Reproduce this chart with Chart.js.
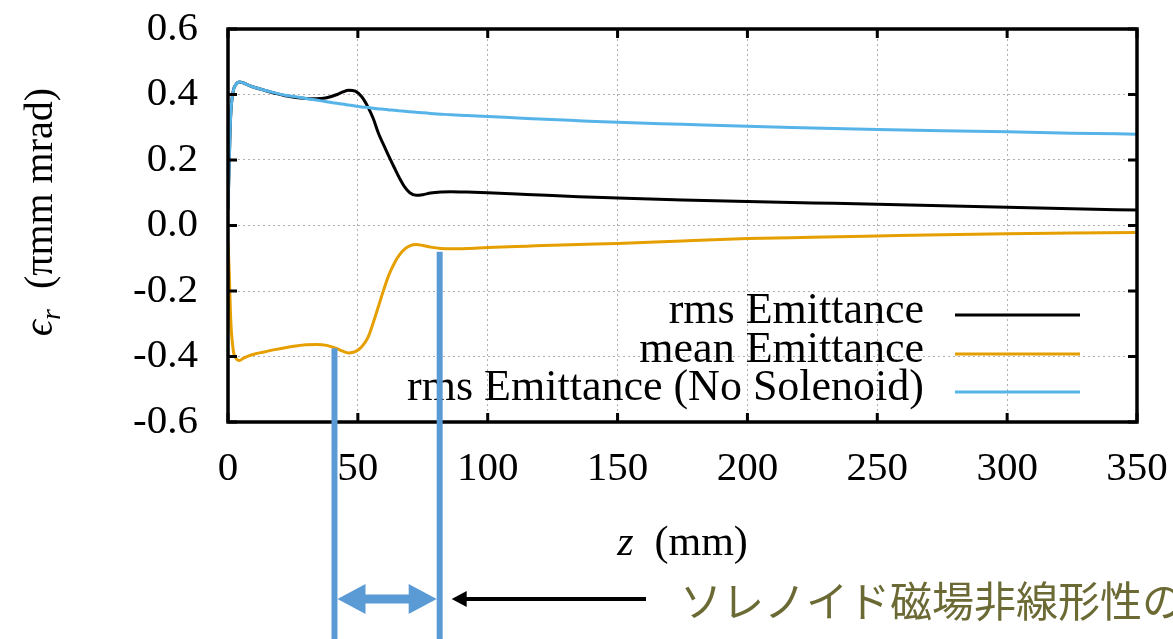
<!DOCTYPE html>
<html>
<head>
<meta charset="utf-8">
<script src="https://cdn.jsdelivr.net/npm/chart.js@4/dist/chart.umd.min.js"></script>
<style>
html,body{margin:0;padding:0;background:#fff;}
#wrap{width:1173px;height:639px;position:relative;}
</style>
</head>
<body>
<div id="wrap"><canvas id="c" width="1173" height="639"></canvas></div>
<script>
// ---- data ----
const zValues = [0, 0.5, 1, 2, 3, 4.4, 6, 8, 10, 14, 18, 22, 26, 30, 34, 38, 42, 44, 46.5, 49, 51.5, 54, 56, 58, 60, 62, 64, 66, 68, 70, 72.5, 75, 78, 82, 86, 92, 100, 115, 135, 150, 175, 200, 225, 250, 275, 300, 325, 350];
const rmsEmittance = [0.05, 0.2, 0.33, 0.41, 0.43, 0.438, 0.435, 0.428, 0.422, 0.413, 0.404, 0.396, 0.391, 0.388, 0.387, 0.39, 0.4, 0.407, 0.413, 0.41, 0.393, 0.36, 0.325, 0.28, 0.245, 0.21, 0.177, 0.145, 0.118, 0.1, 0.092, 0.094, 0.099, 0.102, 0.103, 0.102, 0.1, 0.095, 0.088, 0.084, 0.078, 0.073, 0.069, 0.065, 0.06, 0.056, 0.051, 0.047];
const meanEmittance = [-0.05, -0.15, -0.28, -0.38, -0.405, -0.412, -0.405, -0.398, -0.393, -0.386, -0.379, -0.373, -0.368, -0.364, -0.363, -0.366, -0.376, -0.383, -0.389, -0.385, -0.37, -0.34, -0.295, -0.245, -0.195, -0.15, -0.116, -0.09, -0.072, -0.062, -0.058, -0.061, -0.066, -0.07, -0.071, -0.07, -0.067, -0.063, -0.058, -0.055, -0.047, -0.04, -0.036, -0.032, -0.028, -0.025, -0.023, -0.021];
const rmsNoSolenoid = [0.05, 0.2, 0.33, 0.41, 0.43, 0.438, 0.435, 0.428, 0.422, 0.413, 0.405, 0.398, 0.393, 0.388, 0.383, 0.378, 0.373, 0.371, 0.368, 0.365, 0.362, 0.36, 0.358, 0.356, 0.355, 0.353, 0.352, 0.35, 0.349, 0.347, 0.346, 0.344, 0.342, 0.34, 0.338, 0.336, 0.333, 0.327, 0.32, 0.315, 0.309, 0.303, 0.298, 0.293, 0.289, 0.286, 0.282, 0.279];
const seriesLabels = ['rms Emittance', 'mean Emittance', 'rms Emittance (No Solenoid)'];
const xTicks = [0, 50, 100, 150, 200, 250, 300, 350];
const yTicks = [-0.6, -0.4, -0.2, 0.0, 0.2, 0.4, 0.6];
const markerZ = [41, 81.5];          // annotation lines (z)
const markerTop = [-0.375, -0.08];   // where each annotation line starts (value)
const noteText = 'ソレノイド磁場非線形性の';

const SERIF = '"Liberation Serif", "DejaVu Serif", serif';
const colors = ['#000000', '#e69f00', '#56b4e9'];
const toPts = arr => zValues.map((z, i) => ({x: z, y: arr[i]}));

const framePlugin = {
  id: 'frame',
  afterDraw(chart) {
    const ctx = chart.ctx;
    const a = chart.chartArea;
    const xs = chart.scales.x, ys = chart.scales.y;
    ctx.save();
    // ticks (inward, mirrored)
    ctx.strokeStyle = '#000';
    ctx.lineWidth = 3;
    const tl = 9;
    xTicks.forEach(v => {
      const px = xs.getPixelForValue(v);
      ctx.beginPath();
      ctx.moveTo(px, a.bottom); ctx.lineTo(px, a.bottom - tl);
      ctx.moveTo(px, a.top); ctx.lineTo(px, a.top + tl);
      ctx.stroke();
    });
    yTicks.forEach(v => {
      const py = ys.getPixelForValue(v);
      ctx.beginPath();
      ctx.moveTo(a.left, py); ctx.lineTo(a.left + tl, py);
      ctx.moveTo(a.right, py); ctx.lineTo(a.right - tl, py);
      ctx.stroke();
    });
    // frame
    ctx.lineWidth = 3.5;
    ctx.strokeRect(a.left, a.top, a.right - a.left, a.bottom - a.top);

    // legend (gnuplot style: text right-aligned, sample to the right)
    ctx.font = '44px ' + SERIF;
    ctx.textAlign = 'right';
    ctx.textBaseline = 'middle';
    const rows = [313, 352, 390];
    chart.data.datasets.forEach((ds, i) => {
      ctx.fillStyle = '#000';
      ctx.fillText(ds.label, 924, rows[i] - 2);
      ctx.strokeStyle = ds.borderColor;
      ctx.lineWidth = 3;
      ctx.beginPath();
      ctx.moveTo(955, rows[i] + 2); ctx.lineTo(1080, rows[i] + 2);
      ctx.stroke();
    });

    // axis titles
    ctx.fillStyle = '#000';
    ctx.textAlign = 'left';
    ctx.textBaseline = 'alphabetic';
    // x title: z (mm)
    ctx.font = 'italic 42px ' + SERIF;
    const zW = ctx.measureText('z').width;
    ctx.font = '42px ' + SERIF;
    const rest = '  (mm)';
    const rW = ctx.measureText(rest).width;
    const cx = (a.left + a.right) / 2;
    let sx = cx - (zW + rW) / 2;
    ctx.font = 'italic 42px ' + SERIF;
    ctx.fillText('z', sx, 555);
    ctx.font = '42px ' + SERIF;
    ctx.fillText(rest, sx + zW, 555);

    // y title: ϵ_r (πmm mrad)
    ctx.save();
    ctx.translate(52, 212);
    ctx.rotate(-Math.PI / 2);
    ctx.font = 'italic 40px ' + SERIF;
    const eW = ctx.measureText('ϵ').width;
    ctx.font = 'italic 28px ' + SERIF;
    const subW = ctx.measureText('r').width;
    ctx.font = '40px ' + SERIF;
    const yRest = '  (πmm mrad)';
    const yRW = ctx.measureText(yRest).width;
    let yx = -(eW + subW + yRW) / 2;
    ctx.font = 'italic 40px ' + SERIF;
    ctx.fillText('ϵ', yx, 0);
    ctx.font = 'italic 28px ' + SERIF;
    ctx.fillText('r', yx + eW, 8);
    ctx.font = '40px ' + SERIF;
    ctx.fillText(yRest, yx + eW + subW, 0);
    ctx.restore();

    // annotation: vertical marker lines
    const blue = '#5b9bd5';
    ctx.strokeStyle = blue;
    ctx.lineWidth = 6;
    const mx = markerZ.map(z => xs.getPixelForValue(z));
    markerZ.forEach((z, i) => {
      ctx.beginPath();
      ctx.moveTo(mx[i], ys.getPixelForValue(markerTop[i]));
      ctx.lineTo(mx[i], 639);
      ctx.stroke();
    });
    // double-headed blue arrow
    const ay = 599;
    const hl = 28, hh = 15;
    ctx.lineWidth = 9;
    ctx.beginPath();
    ctx.moveTo(mx[0] + hl - 2, ay); ctx.lineTo(mx[1] - hl + 2, ay);
    ctx.stroke();
    ctx.fillStyle = blue;
    ctx.beginPath();
    ctx.moveTo(mx[0] + 3, ay); ctx.lineTo(mx[0] + 3 + hl, ay - hh); ctx.lineTo(mx[0] + 3 + hl, ay + hh); ctx.closePath();
    ctx.fill();
    ctx.beginPath();
    ctx.moveTo(mx[1] - 3, ay); ctx.lineTo(mx[1] - 3 - hl, ay - hh); ctx.lineTo(mx[1] - 3 - hl, ay + hh); ctx.closePath();
    ctx.fill();
    // black arrow
    ctx.strokeStyle = '#000';
    ctx.fillStyle = '#000';
    ctx.lineWidth = 4;
    const tip = mx[1] + 12;
    ctx.beginPath();
    ctx.moveTo(tip + 12, ay); ctx.lineTo(646, ay);
    ctx.stroke();
    ctx.beginPath();
    ctx.moveTo(tip, ay); ctx.lineTo(tip + 15, ay - 8); ctx.lineTo(tip + 15, ay + 8); ctx.closePath();
    ctx.fill();
    // Japanese note
    ctx.fillStyle = '#6b6a35';
    ctx.font = '42px "Noto Sans CJK JP", sans-serif';
    ctx.textAlign = 'left';
    ctx.textBaseline = 'middle';
    ctx.fillText(noteText, 680, 601);
    ctx.restore();
  }
};

const zeroPad = s => { s.paddingTop = 0; s.paddingBottom = 0; s.paddingLeft = 0; s.paddingRight = 0; };

new Chart(document.getElementById('c'), {
  type: 'line',
  data: {
    datasets: [
      {label: seriesLabels[0], data: toPts(rmsEmittance), borderColor: colors[0], borderWidth: 3, pointRadius: 0, cubicInterpolationMode: 'monotone', fill: false, order: 2},
      {label: seriesLabels[1], data: toPts(meanEmittance), borderColor: colors[1], borderWidth: 3, pointRadius: 0, cubicInterpolationMode: 'monotone', fill: false, order: 1},
      {label: seriesLabels[2], data: toPts(rmsNoSolenoid), borderColor: colors[2], borderWidth: 3, pointRadius: 0, cubicInterpolationMode: 'monotone', fill: false, order: 0}
    ]
  },
  options: {
    responsive: false,
    animation: false,
    layout: {padding: {left: 0, right: 36, top: 29, bottom: 0}},
    plugins: {legend: {display: false}, tooltip: {enabled: false}},
    scales: {
      x: {
        type: 'linear', min: 0, max: 350,
        afterBuildTicks: s => { s.ticks = xTicks.map(v => ({value: v})); },
        afterFit: s => { s.height = 217; zeroPad(s); },
        ticks: {font: {family: SERIF, size: 41}, color: '#000', padding: 23, maxRotation: 0, autoSkip: false},
        grid: {color: '#b0b0b0', lineWidth: 1, drawTicks: false},
        border: {display: false, dash: [2, 3]}
      },
      y: {
        type: 'linear', min: -0.6, max: 0.6,
        afterBuildTicks: s => { s.ticks = yTicks.map(v => ({value: v})); },
        afterFit: s => { s.width = 228; zeroPad(s); },
        ticks: {font: {family: SERIF, size: 41}, color: '#000', padding: 30, autoSkip: false,
          callback: v => Number(v).toFixed(1)},
        grid: {color: '#b0b0b0', lineWidth: 1, drawTicks: false},
        border: {display: false, dash: [2, 3]}
      }
    }
  },
  plugins: [framePlugin]
});
</script>
</body>
</html>
